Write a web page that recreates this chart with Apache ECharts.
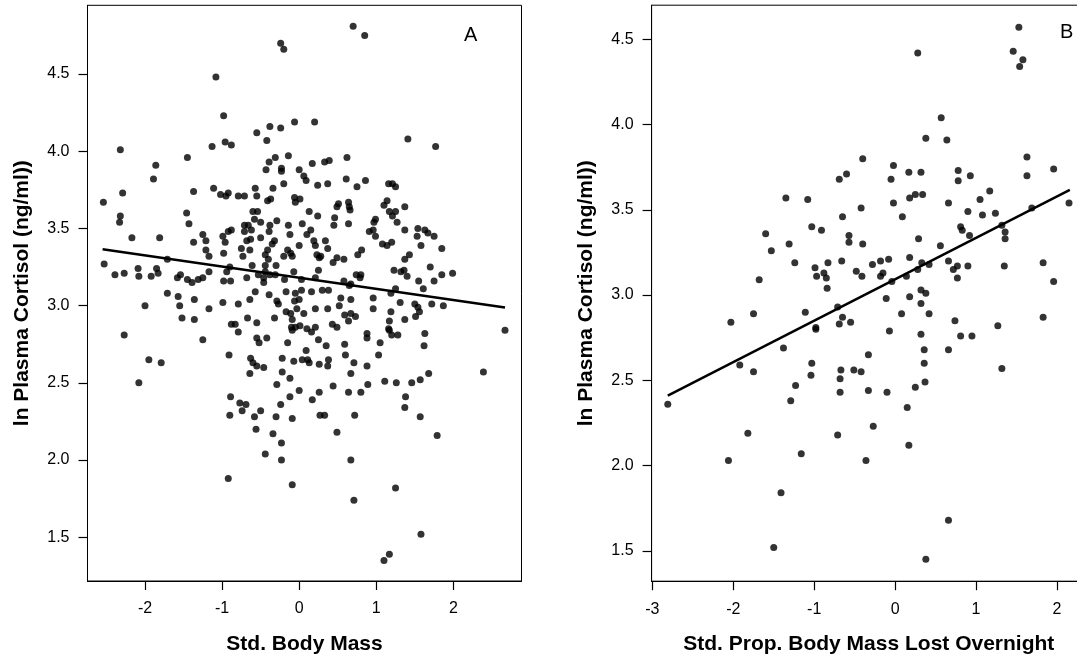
<!DOCTYPE html>
<html>
<head>
<meta charset="utf-8">
<script src="https://cdn.jsdelivr.net/npm/echarts@6/dist/echarts.min.js"></script>
<style>
html,body{margin:0;padding:0;background:#fff}
#chart{width:1077px;height:660px}
</style>
</head>
<body>
<div id="chart"></div>
<script>
// panel A : std. body mass vs ln plasma cortisol
var ptsA = [
  [0.70,4.81],[0.85,4.75],[-0.24,4.70],[-0.20,4.66],[-1.08,4.48],[-0.98,4.23],[-0.55,4.12],[-0.38,4.16],[-0.24,4.15],[-0.06,4.19],
  [0.20,4.19],[1.41,4.08],[1.77,4.03],[-2.32,4.01],[-1.13,4.03],[-0.96,4.06],[-0.88,4.04],[-0.42,4.07],[-1.45,3.96],[-1.86,3.91],
  [-1.89,3.82],[-2.29,3.73],[-2.54,3.67],[-2.32,3.58],[-2.33,3.54],[-2.17,3.44],[-1.81,3.44],[-1.37,3.74],[-1.46,3.60],[-1.43,3.53],
  [-1.11,3.76],[-1.02,3.72],[-0.95,3.71],[-0.92,3.73],[-0.79,3.71],[-0.71,3.71],[-0.57,3.76],[-0.55,3.71],[-0.43,3.88],[-0.39,3.93],
  [-0.31,3.96],[-0.23,3.89],[-0.23,3.87],[-0.14,3.97],[-0.20,3.79],[-0.41,3.68],[-0.37,3.69],[-0.34,3.76],[0.00,3.88],[0.06,3.84],
  [0.09,3.81],[0.17,3.92],[0.24,3.78],[0.33,3.93],[0.39,3.94],[0.37,3.79],[0.62,3.96],[0.61,3.82],[0.75,3.77],[0.86,3.81],
  [1.16,3.79],[1.21,3.79],[1.25,3.77],[1.14,3.68],[1.10,3.65],[1.37,3.64],[1.17,3.61],[1.25,3.61],[1.21,3.58],[1.27,3.54],
  [1.37,3.49],[1.54,3.50],[1.53,3.45],[1.63,3.49],[1.67,3.47],[1.75,3.45],[1.58,3.39],[1.85,3.37],[1.99,3.21],[1.85,3.20],
  [1.70,3.25],[1.75,3.16],[1.55,3.16],[1.61,3.11],[1.72,3.01],[1.87,3.00],[1.50,3.01],[1.54,2.99],[1.56,2.96],[1.51,2.93],
  [1.31,3.02],[1.37,2.91],[1.19,2.96],[1.17,2.90],[1.19,3.08],[1.25,3.11],[1.23,3.23],[1.32,3.22],[1.36,3.23],[1.40,3.19],
  [1.37,3.30],[1.43,3.33],[1.08,3.40],[1.14,3.39],[1.20,3.41],[0.96,3.49],[0.91,3.48],[0.99,3.45],[0.97,3.54],[0.99,3.56],
  [0.76,3.33],[0.81,3.36],[0.74,3.20],[0.80,3.20],[0.79,3.18],[0.67,3.14],[0.65,3.13],[0.58,3.16],[0.67,3.04],[0.54,3.05],
  [0.52,3.00],[0.96,3.05],[0.96,2.98],[0.59,2.94],[0.67,2.95],[0.73,2.93],[0.64,2.90],[0.64,3.67],[0.65,3.64],[0.66,3.62],
  [0.64,3.53],[0.51,3.66],[0.49,3.64],[0.46,3.57],[0.45,3.52],[0.24,3.58],[0.13,3.61],[0.04,3.53],[-0.06,3.70],[-0.05,3.67],
  [0.01,3.69],[-0.14,3.52],[-0.12,3.46],[-0.20,3.32],[-0.15,3.36],[-0.11,3.34],[-0.09,3.32],[0.00,3.39],[-0.29,3.55],[-0.38,3.52],
  [-0.39,3.48],[-0.32,3.42],[-0.35,3.40],[-0.41,3.36],[-0.44,3.33],[-0.40,3.30],[-0.50,3.44],[-0.50,3.54],[-0.58,3.56],[-0.60,3.61],
  [-0.54,3.61],[-0.62,3.49],[-0.71,3.52],[-0.66,3.52],[-0.71,3.48],[-0.68,3.42],[-0.63,3.43],[-0.75,3.37],[-0.64,3.36],[-0.73,3.32],
  [-0.61,3.26],[-0.44,3.26],[-0.44,3.22],[-0.38,3.20],[-0.30,3.26],[-0.31,3.20],[-0.68,3.18],[-0.53,3.20],[-0.46,3.18],[-0.46,3.15],
  [-0.57,3.09],[-0.39,3.07],[-0.29,3.03],[-0.27,3.01],[-0.19,3.17],[-0.07,3.22],[0.03,3.17],[0.21,3.18],[0.25,3.23],[0.26,3.31],
  [0.19,3.42],[0.15,3.49],[0.10,3.46],[0.21,3.39],[0.23,3.33],[0.28,3.32],[0.34,3.42],[0.37,3.37],[0.44,3.28],[0.49,3.31],
  [0.58,3.30],[0.03,3.10],[0.16,3.09],[0.30,3.10],[0.38,3.10],[-0.05,3.08],[-0.17,3.09],[-0.06,3.03],[0.00,3.04],[-0.17,2.96],
  [-0.11,2.95],[-0.03,2.98],[0.06,2.95],[0.21,2.98],[0.37,2.98],[-0.32,2.92],[-0.64,3.04],[-0.79,3.01],[-0.67,2.92],[-0.55,2.89],
  [-0.88,2.88],[-0.83,2.88],[-1.17,2.98],[-0.99,3.02],[-0.98,3.16],[-0.89,3.16],[-0.94,3.22],[-0.90,3.25],[-0.98,3.34],[-0.96,3.41],
  [-0.99,3.45],[-0.92,3.48],[-0.88,3.49],[-1.17,3.22],[-1.17,3.32],[-1.21,3.36],[-1.25,3.46],[-1.21,3.42],[-1.37,3.41],[-1.25,3.18],
  [-1.31,3.17],[-1.45,3.17],[-1.39,3.15],[-1.58,3.18],[-1.54,3.20],[-1.71,3.08],[-1.57,3.06],[-1.55,3.00],[-1.52,2.92],[-1.36,3.04],
  [-1.36,2.91],[-1.71,3.30],[-1.85,3.24],[-1.83,3.21],[-1.92,3.19],[-2.09,3.24],[-2.08,3.19],[-2.27,3.21],[-2.39,3.20],[-2.53,3.27],
  [-2.00,3.00],[-0.09,2.91],[-0.10,2.86],[-0.05,2.86],[0.01,2.87],[0.10,2.85],[0.21,2.86],[0.43,2.88],[0.49,2.86],[1.16,2.85],
  [-2.27,2.81],[-1.25,2.78],[-0.91,2.68],[-1.95,2.65],[-1.79,2.63],[-2.08,2.50],[-0.79,2.83],[-0.55,2.79],[-0.52,2.76],[-0.42,2.79],
  [-0.15,2.76],[-0.09,2.84],[-0.63,2.66],[-0.60,2.63],[-0.55,2.61],[-0.46,2.60],[-0.64,2.56],[-0.22,2.66],[-0.07,2.64],[0.04,2.65],
  [0.09,2.71],[0.11,2.65],[0.13,2.63],[0.26,2.62],[0.37,2.61],[0.38,2.65],[0.35,2.74],[0.25,2.78],[0.16,2.83],[0.59,2.75],
  [0.60,2.68],[0.71,2.63],[0.67,2.56],[0.88,2.61],[0.88,2.82],[0.88,2.79],[1.05,2.76],[1.03,2.68],[1.20,2.81],[1.28,2.81],
  [1.17,2.84],[1.63,2.82],[1.62,2.74],[2.67,2.84],[-0.22,2.57],[-0.29,2.49],[-0.12,2.53],[0.00,2.45],[0.26,2.44],[0.44,2.48],
  [0.64,2.44],[0.80,2.44],[0.89,2.49],[1.11,2.51],[1.26,2.50],[1.46,2.50],[1.57,2.52],[1.68,2.56],[2.39,2.57],[1.38,2.41],
  [1.37,2.34],[1.57,2.28],[1.79,2.16],[-0.89,2.41],[-0.90,2.29],[-0.77,2.37],[-0.69,2.36],[-0.74,2.32],[-0.50,2.32],[-0.58,2.28],
  [-0.56,2.20],[-0.34,2.17],[-0.44,2.04],[-0.30,2.28],[-0.24,2.36],[-0.12,2.41],[-0.09,2.27],[-0.23,2.11],[-0.23,2.00],[0.17,2.39],
  [0.27,2.29],[0.33,2.29],[0.49,2.18],[0.72,2.29],[0.67,2.00],[-0.92,1.88],[-0.09,1.84],[1.25,1.82],[0.71,1.74],[1.58,1.52],
  [1.17,1.39],[1.10,1.35]
];
var fitA = [[-2.55,3.366],[2.67,2.988]];
var xTicksA = [-2,-1,0,1,2];
var yTicksA = [1.5,2.0,2.5,3.0,3.5,4.0,4.5];

// panel B : std. prop. body mass lost overnight vs ln plasma cortisol
var ptsB = [
  [1.53,4.57],[0.28,4.42],[1.46,4.43],[1.58,4.38],[1.54,4.34],[0.57,4.04],[0.64,3.91],[0.38,3.92],[1.63,3.81],[1.63,3.70],
  [1.96,3.74],[-0.40,3.80],[-0.02,3.76],[-0.05,3.68],[-0.02,3.54],[0.17,3.72],[0.32,3.72],[0.78,3.73],[0.78,3.67],[0.93,3.70],
  [-0.69,3.68],[-0.60,3.71],[0.18,3.57],[0.25,3.59],[0.34,3.59],[0.66,3.54],[1.05,3.56],[1.17,3.61],[0.90,3.49],[1.08,3.47],
  [1.24,3.48],[1.69,3.51],[2.15,3.54],[0.09,3.46],[0.81,3.40],[0.83,3.38],[0.92,3.35],[1.32,3.41],[1.36,3.37],[1.36,3.33],
  [1.35,3.17],[1.83,3.19],[1.96,3.08],[1.83,2.87],[1.27,2.82],[0.29,3.33],[0.56,3.29],[0.66,3.20],[0.72,3.15],[0.77,3.17],
  [0.77,3.10],[0.90,3.17],[0.18,3.22],[0.28,3.15],[0.33,3.19],[0.42,3.18],[0.14,3.11],[0.18,2.99],[0.32,3.03],[0.38,3.01],
  [0.32,2.95],[0.42,2.89],[0.08,2.89],[0.74,2.85],[-0.11,2.98],[-0.04,3.08],[-0.08,3.21],[-0.18,3.11],[-0.15,3.13],[-0.18,3.20],
  [-0.28,3.18],[-0.42,3.51],[-0.40,3.30],[-0.41,3.11],[-0.48,3.14],[-0.57,3.35],[-0.57,3.31],[-0.65,3.46],[-0.66,3.20],[-0.71,2.93],
  [-0.65,2.87],[-0.69,2.83],[-0.55,2.84],[-0.83,3.19],[-0.88,3.13],[-0.85,3.10],[-0.84,3.04],[-0.97,3.11],[-0.99,3.16],[-0.91,3.38],
  [-1.03,3.40],[-1.08,3.56],[-1.35,3.57],[-1.31,3.30],[-1.24,3.19],[-1.11,2.90],[-0.98,2.81],[-1.60,3.36],[-1.53,3.26],[-1.68,3.09],
  [-1.75,2.89],[-2.03,2.84],[-0.98,2.80],[-0.07,2.79],[0.32,2.77],[0.81,2.76],[0.95,2.76],[-1.38,2.69],[0.36,2.68],[0.66,2.68],
  [-0.33,2.65],[0.36,2.60],[-1.03,2.60],[-1.92,2.59],[-1.75,2.55],[-1.04,2.53],[-0.67,2.56],[-0.68,2.51],[-0.51,2.56],[-0.42,2.55],
  [1.32,2.57],[0.37,2.49],[-1.23,2.47],[0.25,2.46],[-0.68,2.43],[-0.33,2.44],[-0.10,2.43],[-1.29,2.38],[-2.81,2.36],[0.15,2.34],
  [-0.27,2.23],[-1.82,2.19],[-0.71,2.18],[0.17,2.12],[-1.16,2.07],[-2.06,2.03],[-0.36,2.03],[-1.41,1.84],[0.66,1.68],[-1.50,1.52],
  [0.38,1.45]
];
var fitB = [[-2.81,2.41],[2.16,3.617]];
var xTicksB = [-3,-2,-1,0,1,2];
var yTicksB = [1.5,2.0,2.5,3.0,3.5,4.0,4.5];

var FONT = '"Liberation Sans", Arial, sans-serif';

function xAxisOf(idx, min, max, ticks, name) {
    return {
        type: 'value', gridIndex: idx, min: min, max: max, position: 'bottom',
        name: name, nameLocation: 'middle', nameGap: 53,
        nameTextStyle: {fontSize: 21, fontWeight: 'bold', color: '#000', fontFamily: FONT},
        axisLine: {show: true, onZero: false, lineStyle: {color: '#000', width: 1}},
        splitLine: {show: false},
        axisTick: {show: true, length: 9, customValues: ticks, lineStyle: {color: '#000', width: 1.2}},
        axisLabel: {customValues: ticks, margin: 20, fontSize: 16, color: '#000', fontFamily: FONT,
            formatter: function (v) { return String(v); }}
    };
}
function yAxisOf(idx, min, max, ticks) {
    return {
        type: 'value', gridIndex: idx, min: min, max: max, position: 'left',
        name: 'ln Plasma Cortisol (ng/ml))', nameLocation: 'middle', nameGap: 55,
        nameTextStyle: {fontSize: 21, fontWeight: 'bold', color: '#000', fontFamily: FONT},
        axisLine: {show: true, onZero: false, lineStyle: {color: '#000', width: 1}},
        splitLine: {show: false},
        axisTick: {show: true, length: 9, customValues: ticks, lineStyle: {color: '#000', width: 1.2}},
        axisLabel: {customValues: ticks, margin: 18, fontSize: 16, color: '#000', fontFamily: FONT,
            formatter: function (v) { return v.toFixed(1); }}
    };
}
function dots(idx, data) {
    return {type: 'scatter', xAxisIndex: idx, yAxisIndex: idx, data: data,
        symbol: 'circle', symbolSize: 7, itemStyle: {color: '#000'}, silent: true};
}
function fit(idx, data) {
    return {type: 'line', xAxisIndex: idx, yAxisIndex: idx, data: data,
        symbol: 'none', lineStyle: {color: '#000', width: 2.5}, silent: true};
}

var myChart = echarts.init(document.getElementById('chart'), null, {renderer: 'canvas'});
var option = {
    animation: false,
    backgroundColor: '#fff',
    textStyle: {fontFamily: FONT, color: '#000'},
    grid: [
        {left: 87.5, top: 5.3, width: 434, height: 575.7, show: true, borderColor: '#000', borderWidth: 1,
            backgroundColor: 'transparent', outerBoundsMode: 'none', containLabel: false},
        {left: 651.6, top: 5.2, width: 434.4, height: 576, show: true, borderColor: '#000', borderWidth: 1,
            backgroundColor: 'transparent', outerBoundsMode: 'none', containLabel: false}
    ],
    xAxis: [
        xAxisOf(0, -2.746, 2.884, xTicksA, 'Std. Body Mass'),
        xAxisOf(1, -3.01, 2.36, xTicksB, 'Std. Prop. Body Mass Lost Overnight')
    ],
    yAxis: [
        yAxisOf(0, 1.217, 4.945, yTicksA),
        yAxisOf(1, 1.322, 4.70, yTicksB)
    ],
    series: [dots(0, ptsA), fit(0, fitA), dots(1, ptsB), fit(1, fitB)],
    graphic: [
        {type: 'text', left: 464, top: 25, style: {text: 'A', fontSize: 20, fill: '#000', font: '20px ' + FONT}},
        {type: 'text', left: 1060, top: 22, style: {text: 'B', fontSize: 20, fill: '#000', font: '20px ' + FONT}}
    ]
};
myChart.setOption(option);
</script>
</body>
</html>
